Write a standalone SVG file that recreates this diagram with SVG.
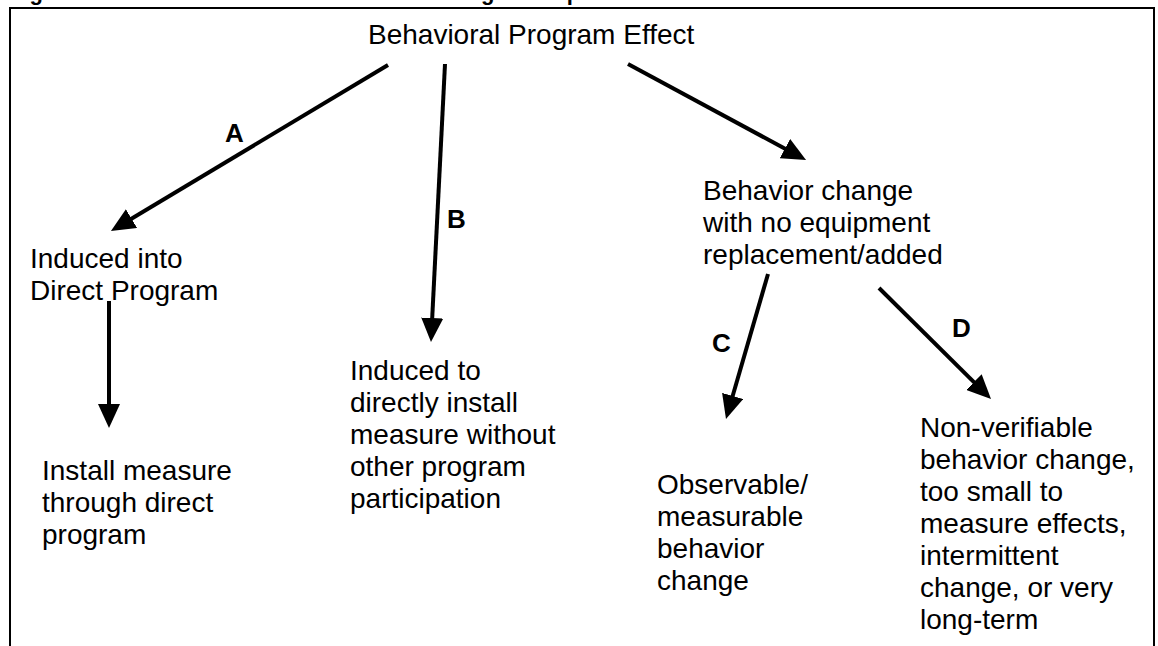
<svg xmlns="http://www.w3.org/2000/svg" width="1158" height="646" viewBox="0 0 1158 646">
<style>
text{font-family:"Liberation Sans",Arial,sans-serif;font-size:28px;fill:#000}
.lbl{font-weight:bold;font-size:26px}
.ttl{font-weight:bold;font-size:22px}
.conn line{stroke:#000;stroke-width:4;marker-end:url(#ah)}
</style>
<defs>
<marker id="ah" markerUnits="userSpaceOnUse" markerWidth="24" markerHeight="22" refX="6" refY="11" orient="auto">
<path d="M0,0 L24,11 L0,22 z" fill="#000"/>
</marker>
</defs>
<rect width="1158" height="646" fill="#fff"/>
<text class="ttl" x="10" y="0">Figure 1. Potential Alternative Behavioral Program Impact Paths</text>
<path d="M10,646 V8 H1154 V646" fill="none" stroke="#000" stroke-width="2"/>
<g id="n-root"><text x="368" y="44">Behavioral Program Effect</text></g>
<g id="n-induced-direct"><text x="30" y="268">Induced into</text><text x="30" y="300">Direct Program</text></g>
<g id="n-install-direct"><text x="42" y="480">Install measure</text><text x="42" y="512">through direct</text><text x="42" y="544">program</text></g>
<g id="n-induced-install"><text x="350" y="380">Induced to</text><text x="350" y="412">directly install</text><text x="350" y="444">measure without</text><text x="350" y="476">other program</text><text x="350" y="508">participation</text></g>
<g id="n-behavior-change"><text x="703" y="200">Behavior change</text><text x="703" y="232">with no equipment</text><text x="703" y="264">replacement/added</text></g>
<g id="n-observable"><text x="657" y="494">Observable/</text><text x="657" y="526">measurable</text><text x="657" y="558">behavior</text><text x="657" y="590">change</text></g>
<g id="n-nonverifiable"><text x="920" y="437">Non-verifiable</text><text x="920" y="469">behavior change,</text><text x="920" y="501">too small to</text><text x="920" y="533">measure effects,</text><text x="920" y="565">intermittent</text><text x="920" y="597">change, or very</text><text x="920" y="629">long-term</text></g>
<g id="connectors" class="conn">
<line x1="388" y1="65" x2="126.4" y2="221.7"/>
<line x1="445" y1="64" x2="431.9" y2="324"/>
<line x1="628" y1="64" x2="790.2" y2="151.5"/>
<line x1="109" y1="301" x2="109" y2="410"/>
<line x1="768" y1="274" x2="731" y2="401.7"/>
<line x1="879" y1="288" x2="978.2" y2="386.3"/>
<text class="lbl" x="225" y="142">A</text>
<text class="lbl" x="447" y="228">B</text>
<text class="lbl" x="712" y="352">C</text>
<text class="lbl" x="952" y="337">D</text>
</g>
</svg>
